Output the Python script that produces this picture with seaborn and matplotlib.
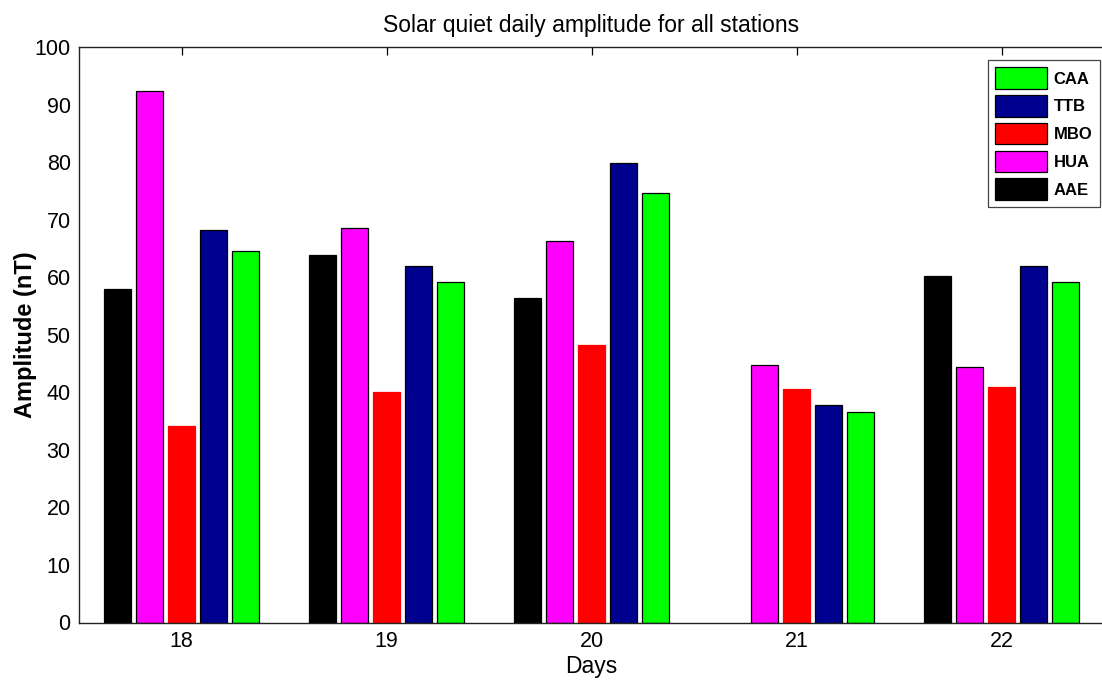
import numpy as np
import pandas as pd
import matplotlib
matplotlib.use("Agg")
import matplotlib.pyplot as plt
import seaborn as sns

days = ["18", "19", "20", "21", "22"]
stations = ["AAE", "HUA", "MBO", "TTB", "CAA"]
aae = [58.0, 63.9, 56.4, np.nan, 60.2]
hua = [92.4, 68.6, 66.3, 44.7, 44.4]
mbo = [34.2, 40.0, 48.3, 40.6, 40.9]
ttb = [68.2, 61.9, 79.9, 37.8, 61.9]
caa = [64.6, 59.1, 74.7, 36.6, 59.1]
colors = {"AAE": "#000000", "HUA": "#FF00FF", "MBO": "#FF0000",
          "TTB": "#00008F", "CAA": "#00FF00"}

series = {"AAE": aae, "HUA": hua, "MBO": mbo, "TTB": ttb, "CAA": caa}
rows = []
for st in stations:
    for d, v in zip(days, series[st]):
        rows.append({"Day": d, "Amplitude": v, "Station": st})
df = pd.DataFrame(rows)

sns.set_style("white")
plt.rcParams["font.family"] = ["Liberation Sans", "DejaVu Sans"]
plt.rcParams["text.color"] = "black"
plt.rcParams["axes.labelcolor"] = "black"

fig = plt.figure(figsize=(11.02, 6.84), dpi=100)
ax = fig.add_axes([79 / 1102, 61.5 / 684, 1025 / 1102, 575.5 / 684])

sns.barplot(data=df, x="Day", y="Amplitude", hue="Station", order=days,
            hue_order=stations, palette=colors, saturation=1, width=0.78,
            gap=0.17, edgecolor="black", linewidth=0.9, errorbar=None, ax=ax)

# MBO bars have no dark outline
for cont, st in zip(ax.containers, stations):
    if st == "MBO":
        for p in cont:
            p.set_edgecolor("#FF0000")

ax.set_xlim(-0.5, 4.5)
ax.set_ylim(0, 100)
ax.set_yticks(np.arange(0, 101, 10))
ax.tick_params(direction="in", length=6, width=0.9, top=True, right=False,
               labelsize=15.5, colors="black", pad=6)
for s in ax.spines.values():
    s.set_color("#222222")
    s.set_linewidth(1.0)

ax.set_title("Solar quiet daily amplitude for all stations", fontsize=16.5,
             pad=11, color="black")
ax.set_xlabel("Days", fontsize=16.5, labelpad=2)
ax.set_ylabel("Amplitude (nT)", fontsize=17, fontweight="bold", labelpad=-2)

handles, labels = ax.get_legend_handles_labels()
leg = ax.legend(handles[::-1], labels[::-1], loc="upper right",
                bbox_to_anchor=(1100 / 1102, 1 - 60 / 684),
                bbox_transform=fig.transFigure, borderaxespad=0,
                prop={"family": ["Liberation Sans Narrow", "Liberation Sans"],
                      "weight": "bold", "size": 12},
                handlelength=3.1, handleheight=1.6,
                labelspacing=0.38, handletextpad=0.42, borderpad=0.45,
                fancybox=False, framealpha=1, edgecolor="#444444")
leg.get_frame().set_linewidth(0.9)
for h in leg.legend_handles:
    h.set_edgecolor("black")

fig.savefig("out.png", dpi=100)
